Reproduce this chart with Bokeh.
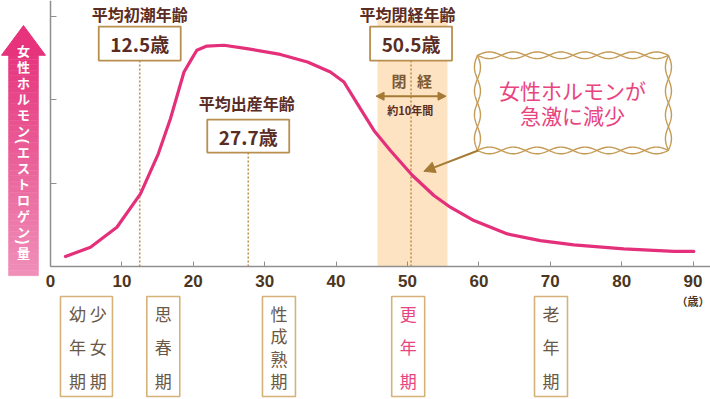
import numpy as np
from bokeh.plotting import figure
from bokeh.models import LinearAxis, FixedTicker, Arrow, NormalHead, Range1d
from bokeh.core.properties import value
from bokeh.embed import file_html
from bokeh.resources import INLINE

# ---------------- data ----------------
age = [2.1, 5.6, 9.3, 12.6, 15.1, 16.8, 18.7, 19.8, 20.5, 21.9, 24.3, 27.5, 32.2,
       36.0, 39.2, 41.1, 43.4, 45.3, 47.6, 50.7, 53.7, 56.0, 59.3, 64.0, 68.6,
       73.3, 80.3, 87.3, 90.1]
hormone = [0.12, 0.23, 0.47, 0.87, 1.35, 1.77, 2.33, 2.49, 2.59, 2.64, 2.65, 2.61,
           2.54, 2.45, 2.33, 2.21, 1.89, 1.63, 1.39, 1.09, 0.85, 0.71, 0.55, 0.39,
           0.31, 0.26, 0.21, 0.18, 0.18]
x_ticks = [0, 10, 20, 30, 40, 50, 60, 70, 80, 90]
y_ticks = [1, 2, 3]
milestone_titles = ["平均初潮年齢", "平均出産年齢", "平均閉経年齢"]
milestone_ages = [12.5, 27.7, 50.5]
milestone_labels = ["12.5歳", "27.7歳", "50.5歳"]
menopause_band = [45.8, 55.6]
stage_names = ["幼年期", "少女期", "思春期", "性成熟期", "更年期", "老年期"]
stage_centers = [3.8, 6.7, 15.8, 32.0, 50.1, 70.1]
y_title = "女性ホルモン(エストロゲン)量"
callout_lines = ["女性ホルモンが", "急激に減少"]

# ---------------- styles ----------------
JP = value("Noto Sans CJK JP")
PINK = "#e4307a"
BROWN_TXT = "#5a2c24"
BOX_LINE = "#b88f4e"
STAGE_LINE = "#d6b27a"
STAGE_TXT = "#6b5846"
DOT = "#c0924e"

p = figure(width=710, height=399, x_range=Range1d(-7.0, 92.44),
           y_range=Range1d(-1.593, 3.186), output_backend="svg",
           toolbar_location=None, x_axis_type=None, y_axis_type=None,
           min_border=0, outline_line_color=None, background_fill_color="white")
p.grid.visible = False

# axes through the origin
xa = LinearAxis(ticker=FixedTicker(ticks=x_ticks), fixed_location=0, bounds=(0, 92.44))
xa.axis_line_color = "#8f8f8f"; xa.axis_line_width = 1.5
xa.major_tick_line_color = "#8f8f8f"; xa.major_tick_in = 5; xa.major_tick_out = 0
xa.minor_tick_line_color = None
xa.major_label_text_font = "Liberation Sans"
xa.major_label_text_font_style = "bold"
xa.major_label_text_font_size = "17px"
xa.major_label_text_color = "#4b3621"
xa.major_label_standoff = 8
p.add_layout(xa, "below")

ya = LinearAxis(ticker=FixedTicker(ticks=y_ticks), fixed_location=0, bounds=(0, 3.186))
ya.axis_line_color = "#8f8f8f"; ya.axis_line_width = 1.5
ya.major_tick_line_color = "#8f8f8f"; ya.major_tick_in = 6; ya.major_tick_out = 0
ya.minor_tick_line_color = None
ya.major_label_overrides = {1: "", 2: "", 3: ""}
p.add_layout(ya, "left")

# menopause band
p.quad(left=menopause_band[0], right=menopause_band[1], bottom=0, top=2.95,
       fill_color="#fde3c1", line_color=None)

# dotted guide lines
box_bottom = [2.467, 1.365, 2.467]
p.segment(x0=milestone_ages, y0=box_bottom, x1=milestone_ages, y1=[0, 0, 0],
          line_color=DOT, line_width=1.6, line_dash="2 2")

# hormone curve
p.line(age, hormone, line_color=PINK, line_width=3.2, line_join="round", line_cap="round")

# milestone titles and boxes
title_y = [3.02, 1.964, 3.02]
box_top = [2.874, 1.76, 2.874]
val_y = [2.67, 1.563, 2.67]
half_w = 5.74
p.quad(left=[a - half_w for a in milestone_ages], right=[a + half_w for a in milestone_ages],
       bottom=box_bottom, top=box_top, fill_color="white", line_color=BOX_LINE, line_width=1.8)
p.text(x=[12.5, 27.5, 50.0], y=title_y, text=milestone_titles, text_font=JP,
       text_font_style="bold", text_font_size="16px", text_color=BROWN_TXT,
       text_align="center", text_baseline="middle")
p.text(x=milestone_ages, y=val_y, text=milestone_labels, text_font=JP,
       text_font_style="bold", text_font_size="19px", text_color=BROWN_TXT,
       text_align="center", text_baseline="middle")

# 閉経 and 約10年間
p.text(x=[48.8, 52.4], y=[2.23, 2.23], text=["閉", "経"], text_font=JP,
       text_font_style="bold", text_font_size="15px", text_color="#7d5a33",
       text_align="center", text_baseline="middle")
p.add_layout(Arrow(x_start=45.6, y_start=2.04, x_end=55.4, y_end=2.04,
                   line_color="#a47a35", line_width=2,
                   start=NormalHead(size=8, fill_color="#a47a35", line_color="#a47a35"),
                   end=NormalHead(size=8, fill_color="#a47a35", line_color="#a47a35")))
p.text(x=[50.4], y=[1.87], text=["約10年間"], text_font=JP, text_font_style="bold",
       text_font_size="11px", text_color=BROWN_TXT, text_align="center",
       text_baseline="middle")

# callout box with rope border
cx0, cx1, cy0, cy1 = 59.8, 86.55, 1.39, 2.53
p.quad(left=cx0, right=cx1, bottom=cy0, top=cy1, fill_color="white", line_color=None)
xs, ys = [], []
t = np.linspace(0, 1, 200)
for sgn in (1, -1):
    for yy in (cy0, cy1):
        xs.append(list(cx0 + (cx1 - cx0) * t)); ys.append(list(yy + sgn * 0.04 * np.sin(np.pi * 8 * t)))
    for xx in (cx0, cx1):
        ys.append(list(cy0 + (cy1 - cy0) * t)); xs.append(list(xx + sgn * 0.42 * np.sin(np.pi * 4 * t)))
p.multi_line(xs, ys, line_color="#c49a55", line_width=1.4)
p.text(x=[73.1, 73.1], y=[2.11, 1.81], text=callout_lines, text_font=JP,
       text_font_size="21px", text_color="#e8457f", text_align="center",
       text_baseline="middle")
p.add_layout(Arrow(x_start=59.9, y_start=1.39, x_end=52.3, y_end=1.14,
                   line_color="#a47a35", line_width=2,
                   end=NormalHead(size=11, fill_color="#a47a35", line_color="#a47a35")))

# (歳) under 90
p.text(x=[90], y=[-0.41], text=["（歳）"], text_font=JP, text_font_style="bold",
       text_font_size="11px", text_color="#4b3621", text_align="center",
       text_baseline="middle")

# life-stage boxes
sb_top, sb_bot = -0.359, -1.557
box_l = [1.4, 15.8 - 2.31, 32.0 - 2.31, 50.1 - 2.31, 70.1 - 2.31]
box_r = [8.68, 15.8 + 2.31, 32.0 + 2.31, 50.1 + 2.31, 70.1 + 2.31]
p.quad(left=box_l, right=box_r, bottom=sb_bot, top=sb_top, fill_color=None,
       line_color=STAGE_LINE, line_width=1.6)
for name, cx in zip(stage_names, stage_centers):
    n = len(name)
    rows = np.linspace(313, 380, n)
    color = "#e8457f" if name == "更年期" else STAGE_TXT
    p.text(x=[cx] * n, y=list((266 - rows) / 83.5), text=list(name), text_font=JP,
           text_font_size="17px", text_color=color, text_align="center",
           text_baseline="middle")

# gradient arrow with vertical y-axis title
ax0, ax1 = -5.88, -1.68
top_y, bot_y = 2.55, -0.11
n_strips = 40
edges = np.linspace(top_y, bot_y, n_strips + 1)
c0 = np.array([0xe6, 0x37, 0x7e]); c1 = np.array([0xf0, 0x8e, 0xb8])
cols = ["#%02x%02x%02x" % tuple(int(v) for v in c0 + (c1 - c0) * f)
        for f in np.linspace(0, 1, n_strips)]
p.quad(left=ax0, right=ax1, top=list(edges[:-1]), bottom=list(edges[1:]),
       fill_color=cols, line_color=cols, line_width=0.5)
p.patch(x=[-6.86, -3.78, -0.70], y=[2.53, 2.886, 2.53], fill_color="#e6337c", line_color="#e6337c")

pos = [50.0]
for i in range(1, len(y_title)):
    prev, cur = y_title[i - 1], y_title[i]
    step = 10.5 if (prev in "()" or cur in "()") else 16.0
    pos.append(pos[-1] + step)
for ch, py in zip(y_title, pos):
    if ch in "()":
        p.text(x=[-3.78], y=[(266 - py) / 83.5], text=[ch], angle=-np.pi / 2,
               text_font=value("Liberation Sans"), text_font_style="bold",
               text_font_size="14px", text_color="white",
               text_align="center", text_baseline="middle")
    else:
        p.text(x=[-3.78], y=[(266 - py) / 83.5], text=[ch], text_font=JP,
               text_font_style="bold", text_font_size="13px", text_color="white",
               text_align="center", text_baseline="middle")

open("out.html", "w").write(file_html(p, INLINE))
